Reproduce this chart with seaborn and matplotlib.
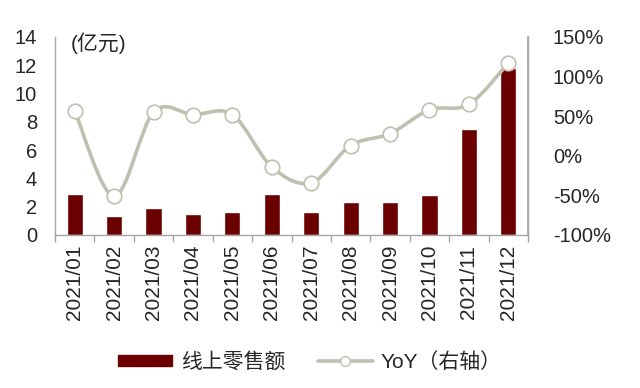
import numpy as np
import pandas as pd
import matplotlib
matplotlib.use("Agg")
import matplotlib.pyplot as plt
from matplotlib.path import Path
from matplotlib.patches import PathPatch
from matplotlib.lines import Line2D
from matplotlib.patches import Patch
import seaborn as sns

months = ["2021/01", "2021/02", "2021/03", "2021/04", "2021/05", "2021/06",
          "2021/07", "2021/08", "2021/09", "2021/10", "2021/11", "2021/12"]
sales = [2.9, 1.35, 1.9, 1.5, 1.6, 2.9, 1.6, 2.3, 2.3, 2.8, 7.5, 11.8]
yoy = [57, -51, 55, 52, 52, -14, -34, 13, 28, 58, 65, 117]
left_ticks = [0, 2, 4, 6, 8, 10, 12, 14]
right_ticks = [-100, -50, 0, 50, 100, 150]
bar_label = "线上零售额"
line_label = "YoY（右轴）"
unit_label = "(亿元)"

sns.set_theme(style="white")
plt.rcParams['font.family'] = ['Liberation Sans', 'Noto Sans CJK SC', 'DejaVu Sans']

BAR = "#6B0000"
LINE = "#C0BFB0"
SPINE = "#A6A6A6"

fig = plt.figure(figsize=(6.4, 3.88), dpi=100)
ax = fig.add_axes([55/640, 1-235/388, (528-55)/640, (235-37)/388])

df = pd.DataFrame({"month": months, "sales": sales, "yoy": yoy})
sns.barplot(data=df, x="month", y="sales", color=BAR, width=0.41, ax=ax,
            saturation=1)
ax.set_xlim(-0.5, len(months) - 0.5)
ax.set_ylim(0, 14)
ax.set_yticks(left_ticks)
ax.set_yticklabels([str(t) for t in left_ticks], fontsize=14.5)
ax.set_xlabel("")
ax.set_ylabel("")
ax.set_xticks(range(len(months)))
ax.set_xticklabels(months, rotation=90, fontsize=15)
ax.set_xticks(np.arange(-0.5, len(months), 1), minor=True)
ax.tick_params(axis="x", which="major", length=0, pad=7)
ax.tick_params(axis="x", which="minor", length=5, color=SPINE, width=1, direction="out", bottom=True)
ax.tick_params(axis="y", length=0, pad=13)
for s in ["top"]:
    ax.spines[s].set_visible(False)
for s in ["left", "bottom", "right"]:
    ax.spines[s].set_color(SPINE)
    ax.spines[s].set_linewidth(1)

ax2 = ax.twinx()
ax2.set_ylim(-100, 150)
ax2.set_xlim(-0.5, len(months) - 0.5)

# smooth curve (Catmull-Rom as cubic Bezier) through the data points
xs = np.arange(len(yoy), dtype=float)
ys = np.array(yoy, dtype=float)
P = np.column_stack([xs, ys])
verts = [P[0]]
codes = [Path.MOVETO]
n = len(P)
for i in range(n - 1):
    p0 = P[i - 1] if i > 0 else P[i]
    p1 = P[i]
    p2 = P[i + 1]
    p3 = P[i + 2] if i + 2 < n else P[i + 1]
    c1 = p1 + (p2 - p0) / 6.0
    c2 = p2 - (p3 - p1) / 6.0
    verts += [c1, c2, p2]
    codes += [Path.CURVE4] * 3
ax2.add_patch(PathPatch(Path(verts, codes), fill=False, edgecolor=LINE, lw=2.6, zorder=3))
sns.scatterplot(data=df, x=np.arange(len(months)), y="yoy", ax=ax2, s=110,
                color="white", edgecolor=LINE, linewidth=1.2, zorder=4, legend=False)
ax2.set_yticks(right_ticks)
ax2.set_yticklabels([f"{t}%" for t in right_ticks], fontsize=14.5)
ax2.tick_params(axis="y", length=0, pad=18)
ax2.set_ylabel("")
ax2.set_xlabel("")
for s in ["top", "left", "bottom"]:
    ax2.spines[s].set_visible(False)
ax2.spines["right"].set_color(SPINE)

fig.text(71/640, 1-43/388, unit_label, fontsize=15, va="center", ha="left")

handles = [Patch(facecolor=BAR, edgecolor=BAR),
           Line2D([0], [0], color=LINE, lw=2.6, marker="o", markersize=7,
                  markerfacecolor="white", markeredgecolor=LINE)]
fig.legend(handles, [bar_label, line_label], loc="center", bbox_to_anchor=(310/640, 1-362/388),
           ncol=2, frameon=False, fontsize=15, handlelength=2.6, handleheight=0.5,
           columnspacing=1.6, handletextpad=0.4)

fig.savefig("out.png", dpi=100)
